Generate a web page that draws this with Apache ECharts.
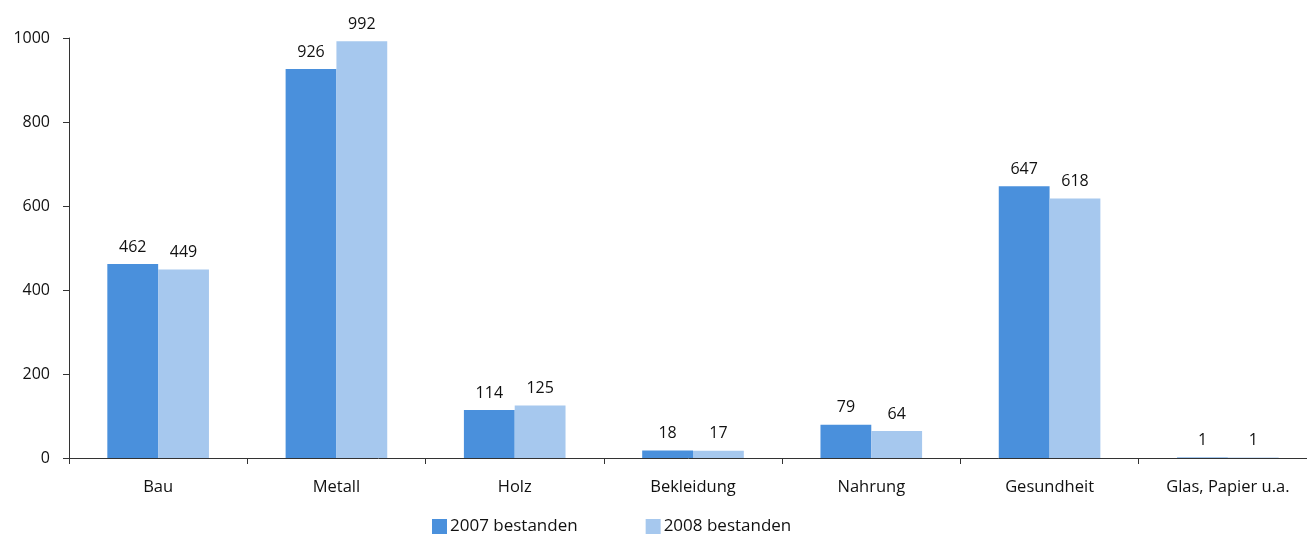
<!DOCTYPE html>
<html><head><meta charset="utf-8">
<script src="https://cdn.jsdelivr.net/npm/echarts@6/dist/echarts.min.js"></script>
<style>html,body{margin:0;padding:0;background:#fff}#c{width:1307px;height:535px}</style>
</head><body><div id="c"></div>
<script>
const categories = ['Bau','Metall','Holz','Bekleidung','Nahrung','Gesundheit','Glas, Papier u.a.'];
const s2007 = [462,926,114,18,79,647,1];
const s2008 = [449,992,125,17,64,618,1];
const seriesNames = ['2007 bestanden','2008 bestanden'];
const font = 'Open Sans';
const chart = echarts.init(document.getElementById('c'));
const lbl = {show:true, position:'top', distance:9, color:'#111', fontSize:16, fontFamily:font};
chart.setOption({
  animation:false,
  textStyle:{fontFamily:font},
  grid:{left:69, width:1248, top:38, bottom:77, containLabel:false, outerBoundsMode:'none'},
  legend:{left:432, top:518, padding:0, itemWidth:15, itemHeight:15, itemGap:68, icon:'rect',
    textStyle:{fontSize:17, color:'#111', fontFamily:font, padding:[2,0,0,-2]},
    data:seriesNames},
  xAxis:{type:'category', data:categories,
    axisLine:{lineStyle:{color:'#333', width:1}},
    axisTick:{show:true, length:6, alignWithLabel:false, lineStyle:{color:'#333'}},
    axisLabel:{color:'#111', fontSize:16.5, margin:21, fontFamily:font, interval:0}},
  yAxis:{type:'value', min:0, max:1000, interval:200,
    axisLine:{show:true, lineStyle:{color:'#333'}},
    axisTick:{show:true, length:6, lineStyle:{color:'#333'}},
    splitLine:{show:false},
    axisLabel:{color:'#111', fontSize:16, margin:19, fontFamily:font, formatter:v=>String(v)}},
  series:[
    {name:seriesNames[0], type:'bar', data:s2007, barGap:'0%', barCategoryGap:'43%',
     itemStyle:{color:'#4a90dc'}, label:lbl},
    {name:seriesNames[1], type:'bar', data:s2008, barGap:'0%', barCategoryGap:'43%',
     itemStyle:{color:'#a6c8ee'}, label:lbl}
  ]
});
</script></body></html>
